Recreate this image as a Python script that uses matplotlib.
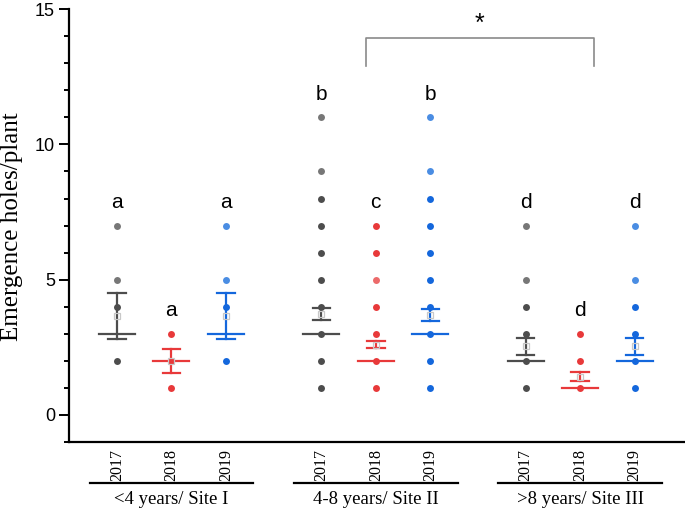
import numpy as np
import matplotlib.pyplot as plt
from matplotlib.ticker import MultipleLocator

# ---- data ----
years = ["2017", "2018", "2019"]
sites = ["<4 years/ Site I", "4-8 years/ Site II", ">8 years/ Site III"]

# individual plant values (unique levels) and how many plants sit on each level
pts_I_2017 = [7, 5, 4, 2]
pts_I_2018 = [3, 2, 1]
pts_I_2019 = [7, 5, 4, 2]
pts_II_2017 = [11, 9, 8, 7, 6, 5, 4, 3, 2, 1]
pts_II_2018 = [7, 6, 5, 4, 3, 2, 1]
pts_II_2019 = [11, 9, 8, 7, 6, 5, 4, 3, 2, 1]
pts_III_2017 = [7, 5, 4, 3, 2, 1]
pts_III_2018 = [3, 2, 1]
pts_III_2019 = [7, 5, 4, 3, 2, 1]

cnt_I_2017 = [1, 1, 2, 2]
cnt_I_2018 = [2, 2, 2]
cnt_I_2019 = [1, 1, 2, 2]
cnt_II_2017 = [1, 1, 2, 2, 2, 2, 2, 2, 2, 2]
cnt_II_2018 = [2, 2, 1, 2, 2, 2, 2]
cnt_II_2019 = [1, 1, 2, 2, 2, 2, 2, 2, 2, 2]
cnt_III_2017 = [1, 1, 2, 2, 2, 2]
cnt_III_2018 = [2, 2, 2]
cnt_III_2019 = [1, 1, 2, 2, 2, 2]

medians = [3, 2, 3, 3, 2, 3, 2, 1, 2]
means = [3.67, 2.0, 3.67, 3.72, 2.6, 3.7, 2.55, 1.4, 2.55]
se_low = [2.8, 1.55, 2.8, 3.51, 2.46, 3.48, 2.21, 1.24, 2.21]
se_high = [4.5, 2.45, 4.5, 3.97, 2.74, 3.93, 2.86, 1.57, 2.86]
letters = ["a", "a", "a", "b", "c", "b", "d", "d", "d"]

all_pts = [pts_I_2017, pts_I_2018, pts_I_2019, pts_II_2017, pts_II_2018,
           pts_II_2019, pts_III_2017, pts_III_2018, pts_III_2019]
all_cnt = [cnt_I_2017, cnt_I_2018, cnt_I_2019, cnt_II_2017, cnt_II_2018,
           cnt_II_2019, cnt_III_2017, cnt_III_2018, cnt_III_2019]

colors = ["#4d4d4d", "#e8393a", "#1467dc"]
light = ["#777777", "#ec6a6a", "#4a8de3"]

positions = [1, 2, 3, 4.75, 5.75, 6.75, 8.5, 9.5, 10.5]

# ---- figure ----
fig = plt.figure(figsize=(6.85, 5.09), dpi=100)
ax = fig.add_axes([0.1007, 0.1316, 0.899, 0.8504])

for i, x in enumerate(positions):
    c = colors[i % 3]
    lc = light[i % 3]
    for v, n in zip(all_pts[i], all_cnt[i]):
        ax.plot(x, v, "o", ms=5, color=c if n > 1 else lc, mec="none", zorder=3)
    # median line
    ax.plot([x - 0.33, x + 0.33], [medians[i]] * 2, color=c, lw=1.6, zorder=4)
    # mean +/- SE
    ax.plot([x, x], [se_low[i], se_high[i]], color=c, lw=1.6, zorder=4)
    for yv in (se_low[i], se_high[i]):
        ax.plot([x - 0.16, x + 0.16], [yv, yv], color=c, lw=1.6, zorder=4)
    ax.plot(x, means[i], "s", ms=4.5, mfc="none", mec="#c8c8c8", mew=0.9, zorder=5)
    ax.text(x, max(all_pts[i]) + 0.85, letters[i], ha="center", va="center",
            fontsize=15, family="Liberation Sans")

# significance bracket between site II and site III
ax.plot([5.57, 5.57, 9.75, 9.75], [12.9, 13.93, 13.93, 12.9], color="#8a8a8a", lw=1.2)
ax.text(7.66, 14.45, "*", ha="center", va="center", fontsize=18,
        family="Liberation Sans")

ax.set_xlim(0.12, 11.42)
ax.set_ylim(-1, 15)
ax.spines["top"].set_visible(False)
ax.spines["right"].set_visible(False)
ax.spines["left"].set_linewidth(1.6)
ax.spines["bottom"].set_linewidth(1.6)

ax.yaxis.set_major_locator(MultipleLocator(5))
ax.yaxis.set_minor_locator(MultipleLocator(1))
ax.set_yticks([0, 5, 10, 15])
ax.tick_params(axis="y", which="major", length=7, width=1.4, labelsize=13, pad=3)
ax.tick_params(axis="y", which="minor", length=3.5, width=1.4)
for lab in ax.get_yticklabels():
    lab.set_family("Liberation Sans")

ax.set_xticks(positions)
ax.set_xticklabels(years * 3, rotation=90, family="Liberation Serif", fontsize=11.5)
ax.tick_params(axis="x", length=0, pad=5)

ax.set_ylabel("Emergence holes/plant", family="Liberation Serif", fontsize=18)
ax.yaxis.label.set_va("center")
ax.yaxis.set_label_coords(-0.093, 0.497)

# group labels under the year labels
for g, name in enumerate(sites):
    x0 = positions[3 * g] - 0.5
    x1 = positions[3 * g + 2] + 0.5
    ax.plot([x0, x1], [-2.52, -2.52], color="black", lw=1.6, clip_on=False)
    ax.text((x0 + x1) / 2, -3.12, name, ha="center", va="center",
            family="Liberation Serif", fontsize=13.5, clip_on=False)

fig.savefig("out.png", dpi=100)
